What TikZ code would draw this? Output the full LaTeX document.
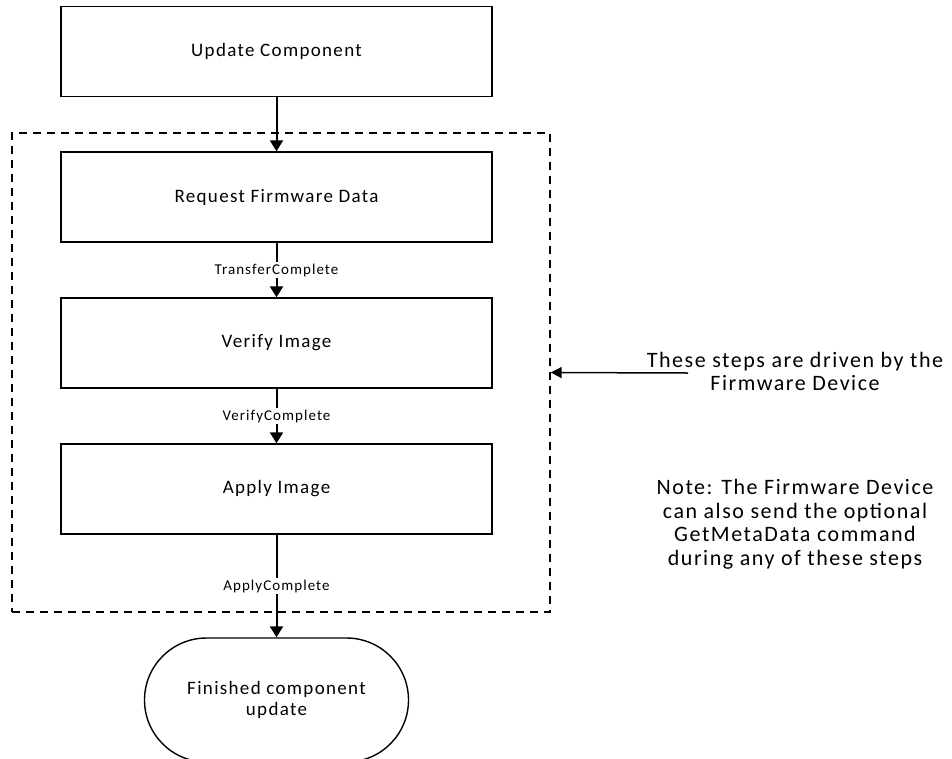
\documentclass[tikz,border=0pt]{standalone}
\usepackage{fontspec}
\setmainfont{Carlito}[LetterSpace=7]
\usetikzlibrary{arrows.meta}

\tikzset{
  stepbox/.style={draw, line width=1.4pt, minimum width=431pt, minimum height=90pt,
    inner sep=0pt, font=\fontsize{19}{22}\selectfont},
  endbox/.style={draw, line width=1.4pt, rounded corners=62pt, minimum width=264pt,
    minimum height=124pt, inner sep=0pt, align=center, font=\fontsize{19}{20.5}\selectfont},
  flow/.style={line width=2pt, -{Triangle[width=13pt,length=11pt]}},
  edgelabel/.style={fill=white, inner sep=1.5pt, font=\fontsize{15}{17}\selectfont},
  notetext/.style={align=center, font=\fontsize{22}{23.5}\selectfont},
}

\begin{document}
\begin{tikzpicture}[x=1pt,y=-1pt]
  \useasboundingbox (0,0) rectangle (952,758);

  % dashed group around the device-driven steps
  \node[draw, dash pattern=on 8pt off 6pt, line width=1.4pt, minimum width=538pt,
    minimum height=479pt, inner sep=0pt] (group) at (281,372.5) {};

  \node[stepbox] (update)  at (276.5,51.5) {Update Component};
  \node[stepbox] (request) at (276.5,197)  {Request Firmware Data};
  \node[stepbox] (verify)  at (276.5,343)  {Verify Image};
  \node[stepbox] (apply)   at (276.5,489)  {Apply Image};
  \node[endbox]  (done)    at (276.5,700)  {Finished component\\update};

  \draw[flow] (update) -- (request);
  \draw[flow] (request) -- node[edgelabel] {TransferComplete} (verify);
  \draw[flow] (verify) -- node[edgelabel] {VerifyComplete} (apply);
  \draw[flow] (apply) -- node[edgelabel] {ApplyComplete} (done);

  % side notes
  \node[notetext] (driven) at (795,371.5) {These steps are driven by the\\Firmware Device};
  \node[notetext] (note) at (795,524) {Note: The Firmware Device\\can also send the optional\\GetMetaData command\\during any of these steps};

  \coordinate (src) at (688,373);
  \draw[line width=1.5pt, -{Triangle[width=11pt,length=11pt]}] (src) -- (group.east);
\end{tikzpicture}
\end{document}
